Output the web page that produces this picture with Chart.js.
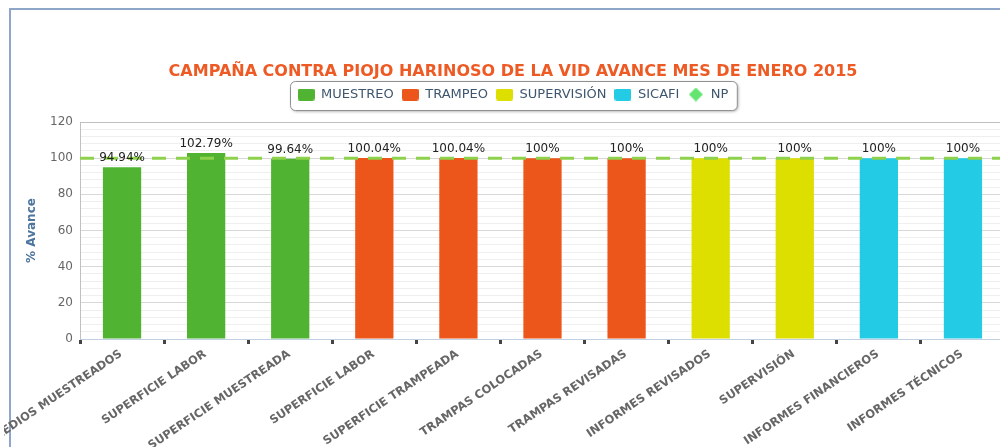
<!DOCTYPE html>
<html>
<head>
<meta charset="utf-8">
<script src="https://cdn.jsdelivr.net/npm/chart.js@4.4.0/dist/chart.umd.min.js"></script>
<style>
html,body{margin:0;padding:0;background:#fff;overflow:hidden;width:1000px;height:447px;}
#frame{position:absolute;left:9px;top:8px;width:1000px;height:460px;border-top:2px solid #8ea7c9;border-left:2px solid #8ea7c9;}
#wrap{position:absolute;left:4px;top:0;width:1016px;height:447px;}
</style>
</head>
<body>
<div id="frame"></div>
<div id="wrap"><canvas id="chart"></canvas></div>
<script>
const categories = ['PREDIOS MUESTREADOS','SUPERFICIE LABOR','SUPERFICIE MUESTREADA','SUPERFICIE LABOR',
  'SUPERFICIE TRAMPEADA','TRAMPAS COLOCADAS','TRAMPAS REVISADAS','INFORMES REVISADOS','SUPERVISIÓN',
  'INFORMES FINANCIEROS','INFORMES TÉCNICOS'];
const muestreo    = [94.94, 102.79, 99.64, null, null, null, null, null, null, null, null];
const trampeo     = [null, null, null, 100.04, 100.04, 100, 100, null, null, null, null];
const supervision = [null, null, null, null, null, null, null, 100, 100, null, null];
const sicafi      = [null, null, null, null, null, null, null, null, null, 100, 100];
const npMeta = 100;
const yTicks = [0, 20, 40, 60, 80, 100, 120];

Chart.defaults.font.family = '"DejaVu Sans", Verdana, sans-serif';

// legend swatches: rounded boxes and a diamond for NP
function swatch(color){
  const c = document.createElement('canvas'); c.width = 17; c.height = 12;
  const g = c.getContext('2d'); g.fillStyle = color;
  g.beginPath(); g.roundRect(0, 0, 17, 12, 2); g.fill();
  return c;
}
function diamond(color){
  const c = document.createElement('canvas'); c.width = 14; c.height = 14;
  const g = c.getContext('2d'); g.fillStyle = color;
  g.beginPath(); g.moveTo(7,0); g.lineTo(14,7); g.lineTo(7,14); g.lineTo(0,7); g.closePath(); g.fill();
  return c;
}
const colors = ['#50B432', '#ED561B', '#DDDF00', '#24CBE5'];
const legendIcons = [swatch(colors[0]), swatch(colors[1]), swatch(colors[2]), swatch(colors[3]), diamond('#64E572')];

const legendFrame = {
  id: 'legendFrame',
  beforeDraw(chart){
    const boxes = chart.legend.legendHitBoxes;
    if(!boxes || !boxes.length) return;
    const l = Math.min(...boxes.map(b => b.left)) - 8;
    const r = Math.max(...boxes.map(b => b.left + b.width)) + 8;
    const t = boxes[0].top - 7;
    const b = boxes[0].top + boxes[0].height + 9;
    const ctx = chart.ctx;
    ctx.save();
    ctx.shadowColor = 'rgba(0,0,0,0.35)'; ctx.shadowOffsetX = 1; ctx.shadowOffsetY = 1; ctx.shadowBlur = 3;
    ctx.beginPath(); ctx.roundRect(Math.round(l)+0.5, Math.round(t)+0.5, r-l, b-t, 5);
    ctx.fillStyle = '#fff'; ctx.fill();
    ctx.shadowColor = 'transparent';
    ctx.strokeStyle = '#909090'; ctx.lineWidth = 1; ctx.stroke();
    ctx.restore();
  }
};

const valueLabels = {
  id: 'valueLabels',
  afterDatasetsDraw(chart){
    const ctx = chart.ctx;
    ctx.save();
    ctx.font = '12px "DejaVu Sans"';
    ctx.fillStyle = '#222';
    ctx.textAlign = 'center';
    ctx.textBaseline = 'alphabetic';
    chart.data.datasets.forEach((ds, di) => {
      if(ds.type !== 'bar') return;
      chart.getDatasetMeta(di).data.forEach((bar, i) => {
        const v = ds.data[i];
        if(v == null) return;
        ctx.fillText(v + '%', bar.x, bar.y - 6);
      });
    });
    ctx.restore();
  }
};

const slantedLabels = {
  id: 'slantedLabels',
  afterDraw(chart){
    const xs = chart.scales.x, ctx = chart.ctx;
    ctx.save();
    ctx.font = 'bold 11.5px "DejaVu Sans"';
    ctx.fillStyle = '#666';
    ctx.textAlign = 'right';
    ctx.textBaseline = 'middle';
    categories.forEach((c, i) => {
      ctx.save();
      ctx.translate(xs.getPixelForValue(i) - 1, xs.top + 14);
      ctx.rotate(-34 * Math.PI / 180);
      ctx.fillText(c, 0, 0);
      ctx.restore();
    });
    ctx.restore();
  }
};

function barSet(label, data, color){
  return { type: 'bar', label, data, backgroundColor: color, grouped: false,
           barPercentage: 0.455, categoryPercentage: 1, xAxisID: 'x', yAxisID: 'y' };
}

new Chart(document.getElementById('chart'), {
  data: {
    labels: categories,
    datasets: [
      barSet('MUESTREO', muestreo, colors[0]),
      barSet('TRAMPEO', trampeo, colors[1]),
      barSet('SUPERVISIÓN', supervision, colors[2]),
      barSet('SICAFI', sicafi, colors[3]),
      { type: 'line', label: 'NP', data: [{x: 0, y: npMeta}, {x: 1, y: npMeta}],
        xAxisID: 'x2', yAxisID: 'y', borderColor: '#8ED14C', backgroundColor: '#64E572',
        borderWidth: 3, borderDash: [14, 10], pointRadius: 0, order: -1 }
    ]
  },
  options: {
    responsive: true,
    maintainAspectRatio: false,
    animation: false,
    layout: { padding: { left: 17, right: 15, top: 0, bottom: 103 } },
    plugins: {
      tooltip: { enabled: false },
      title: {
        display: true,
        text: 'CAMPAÑA CONTRA PIOJO HARINOSO DE LA VID AVANCE MES DE ENERO 2015',
        color: '#EE5A24',
        font: { size: 16, weight: 'bold', lineHeight: 1 },
        padding: { top: 64, bottom: 0 }
      },
      legend: {
        position: 'top',
        labels: {
          usePointStyle: true, pointStyleWidth: 17, boxHeight: 12, padding: 8,
          color: '#3E576F', font: { size: 13 },
          generateLabels: chart => {
            const items = Chart.defaults.plugins.legend.labels.generateLabels(chart);
            items.forEach(it => { it.pointStyle = legendIcons[it.datasetIndex]; });
            return items;
          },
          sort: (a, b) => a.datasetIndex - b.datasetIndex
        }
      }
    },
    scales: {
      x: {
        type: 'category', offset: true,
        grid: { drawOnChartArea: false, offset: true, tickLength: 5, tickWidth: 3, tickColor: '#444' },
        border: { color: '#C0D0E0', width: 1 },
        ticks: { display: false },
        afterFit: s => { s.height = 5; }
      },
      x2: {
        type: 'linear', position: 'top', min: 0, max: 1,
        grid: { display: false }, border: { display: false }, ticks: { display: false },
        afterFit: s => { s.height = 11; }
      },
      y: {
        min: 0, max: 120,
        ticks: {
          stepSize: 4, autoSkip: false, maxTicksLimit: 100, padding: 7,
          color: '#666', font: { size: 12 },
          callback: v => yTicks.includes(v) ? v : ''
        },
        grid: {
          drawTicks: false,
          color: ctx => {
            const v = ctx.tick.value;
            if(v === 120) return '#c0c0c0';
            if(v === 0) return '#C0D0E0';
            return yTicks.includes(v) ? '#d8d8d8' : '#efefef';
          }
        },
        border: { color: '#c0c0c0' },
        title: { display: true, text: '% Avance', color: '#4D759E', font: { size: 12, weight: 'bold' } },
        afterFit: s => { s.width = 59; }
      }
    }
  },
  plugins: [legendFrame, valueLabels, slantedLabels]
});
</script>
</body>
</html>
